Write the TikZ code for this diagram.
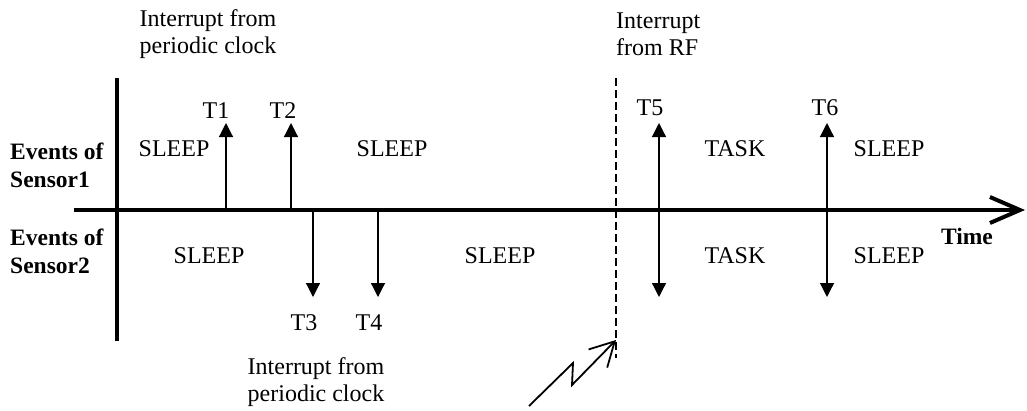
\documentclass[tikz,border=0pt]{standalone}
\usepackage{fontspec}
\setmainfont{Liberation Serif}
\usetikzlibrary{arrows.meta}
\begin{document}
\begin{tikzpicture}[
    x=1pt, y=-1pt,
    lbl/.style={inner sep=0pt, font=\fontsize{24}{27}\selectfont, align=center},
    hdr/.style={inner sep=0pt, font=\fontsize{23.5}{28}\selectfont\bfseries, align=left, anchor=west},
    axis/.style={line width=4pt},
    evt/.style={-{Triangle[length=14pt,width=14pt]}, line width=1.2pt},
    evtboth/.style={{Triangle[length=14pt,width=14pt]}-{Triangle[length=14pt,width=14pt]}, line width=1.2pt}
]
\useasboundingbox (0,0) rectangle (1027,410);

% Axes
\coordinate (tstart) at (74,210);
\coordinate (tend) at (1025,210);
\coordinate (vtop) at (117,78);
\coordinate (vbot) at (117,341);
\draw[axis, -{Straight Barb[length=30pt,width=26pt]}] (tstart) -- (tend);
\draw[axis] (vtop) -- (vbot);
\node[hdr, font=\fontsize{23.5}{27}\selectfont\bfseries, anchor=center] (time) at (967,236) {Time};

% Row headers
\node[hdr] (ev1) at (10,165) {Events of\\Sensor1};
\node[hdr] (ev2) at (10,251) {Events of\\Sensor2};

% Sensor1 events
\coordinate (t1b) at (226,210);
\coordinate (t1t) at (226,123);
\coordinate (t2b) at (291,210);
\coordinate (t2t) at (291,123);
\draw[evt] (t1b) -- (t1t);
\draw[evt] (t2b) -- (t2t);
\node[lbl] (t1) at (216,111) {T1};
\node[lbl] (t2) at (283,111) {T2};

% Sensor2 events
\coordinate (t3t) at (313,210);
\coordinate (t3b) at (313,297);
\coordinate (t4t) at (378,210);
\coordinate (t4b) at (378,297);
\draw[evt] (t3t) -- (t3b);
\draw[evt] (t4t) -- (t4b);
\node[lbl] (t3) at (304,323) {T3};
\node[lbl] (t4) at (369,323) {T4};

% Both sensors
\coordinate (t5t) at (659,123);
\coordinate (t5b) at (659,297);
\coordinate (t6t) at (827,123);
\coordinate (t6b) at (827,297);
\draw[evtboth] (t5b) -- (t5t);
\draw[evtboth] (t6b) -- (t6t);
\node[lbl] (t5) at (650,108) {T5};
\node[lbl] (t6) at (825,108) {T6};

% States
\node[lbl] (s1a) at (174,149) {SLEEP};
\node[lbl] (s1b) at (392,149) {SLEEP};
\node[lbl] (s1c) at (735,149) {TASK};
\node[lbl] (s1d) at (889,149) {SLEEP};
\node[lbl] (s2a) at (209,256) {SLEEP};
\node[lbl] (s2b) at (500,256) {SLEEP};
\node[lbl] (s2c) at (735,256) {TASK};
\node[lbl] (s2d) at (889,256) {SLEEP};

% Interrupts
\node[lbl] (clk1) at (208,34) {Interrupt from\\periodic clock};
\node[lbl] (clk2) at (316,382) {Interrupt from\\periodic clock};
\node[lbl, align=left, anchor=west] (rf) at (616,34) {Interrupt\\from RF};
\coordinate (rftop) at (616,78);
\coordinate (rfbot) at (616,358);
\draw[line width=2pt, dash pattern=on 8pt off 4pt] (rftop) -- (rfbot);

% Lightning
\coordinate (z0) at (529,406);
\coordinate (z1) at (573,363);
\coordinate (z2) at (572,385);
\coordinate (z3) at (616,340);
\draw[line width=1.8pt, -{Straight Barb[length=24pt,width=26pt]}] (z0) -- (z1) -- (z2) -- (z3);
\end{tikzpicture}
\end{document}
